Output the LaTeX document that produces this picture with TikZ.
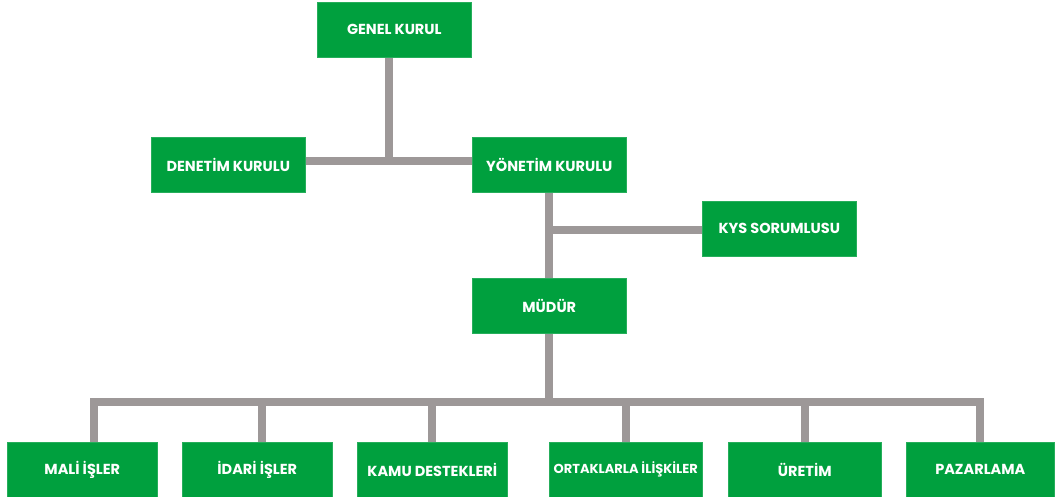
\documentclass[tikz,border=0pt]{standalone}
\usepackage{fontspec}
\setmainfont{Poppins}
\begin{document}
\begin{tikzpicture}[x=1pt,y=-1pt]
\definecolor{boxgreen}{HTML}{00A03E}
\definecolor{linegray}{HTML}{9D9898}
\tikzset{
  orgbox/.style={fill=boxgreen, draw=boxgreen!85!white, line width=0.6pt, text=white,
    font=\fontsize{14.5}{16}\selectfont\bfseries, minimum width=154pt, minimum height=55pt,
    inner sep=1pt, anchor=north west},
  lowbox/.style={orgbox, minimum width=150pt},
  conn/.style={draw=linegray, line width=8pt}
}
\useasboundingbox (0,0) rectangle (1059,497);
\node[orgbox] (gk) at (317,2) {GENEL KURUL};
\node[orgbox] (dk) at (151,137) {DENETİM KURULU};
\node[orgbox] (yk) at (472,137) {YÖNETİM KURULU};
\node[orgbox] (kys) at (702,201) {KYS SORUMLUSU};
\node[orgbox] (md) at (472,278) {MÜDÜR};
\node[lowbox] (b1) at (7,442) {MALİ İŞLER};
\node[lowbox] (b2) at (182,442) {İDARİ İŞLER};
\node[lowbox] (b3) at (357,442) {KAMU DESTEKLERİ};
\node[lowbox, minimum width=153pt, font=\fontsize{13}{15}\selectfont\bfseries] (b4) at (549,442) {ORTAKLARLA İLİŞKİLER};
\node[lowbox, minimum width=153pt] (b5) at (728,442) {ÜRETİM};
\node[lowbox, minimum width=148pt] (b6) at (906,442) {PAZARLAMA};
\coordinate (j1) at (389,161);
\coordinate (busy) at (548,402);
\coordinate (d1) at (94,442);
\coordinate (d2) at (262,442);
\path[conn] (gk.south -| j1) -- (j1);
\path[conn] (dk.east |- j1) -- (yk.west |- j1);
\path[conn] (yk.south) -- (md.north);
\path[conn] (kys.west |- 0,230) -- (yk.south |- 0,230);
\path[conn] (md.south) -- (md.south |- busy);
\path[conn, line cap=rect] (d1 |- busy) -- (b6.north |- busy);
\path[conn] (d1 |- busy) -- (d1);
\path[conn] (d2 |- busy) -- (d2);
\path[conn] (b3.north |- busy) -- (b3.north);
\path[conn] (b4.north |- busy) -- (b4.north);
\path[conn] (b5.north |- busy) -- (b5.north);
\path[conn] (b6.north |- busy) -- (b6.north);
\end{tikzpicture}
\end{document}
